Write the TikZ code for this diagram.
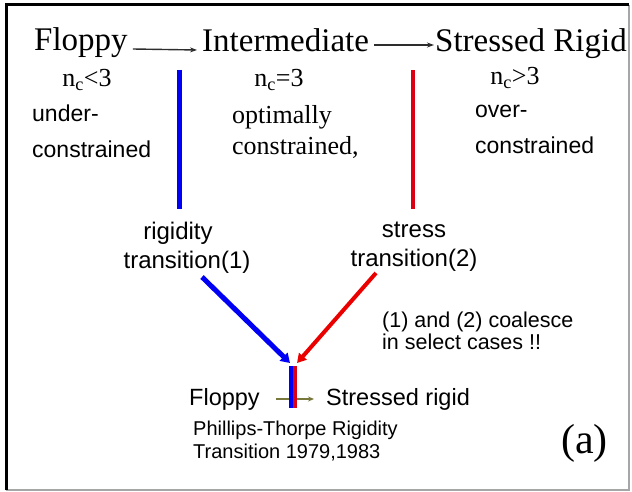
\documentclass[tikz,border=0pt]{standalone}
\usepackage{fontspec}
\setmainfont{Liberation Serif}
\newfontfamily\arialf{Liberation Sans}
\usetikzlibrary{arrows.meta}
\definecolor{myblue}{RGB}{0,0,245}
\definecolor{myred}{RGB}{220,0,20}
\definecolor{myred2}{RGB}{235,0,0}
\definecolor{olive2}{RGB}{120,120,60}
\definecolor{darkline}{RGB}{45,45,45}
\tikzset{
  head/.style={font=\fontsize{33}{36}\selectfont, inner sep=0pt, anchor=base west},
  ncs/.style={font=\fontsize{26}{28}\selectfont, inner sep=0pt, anchor=base},
  sans/.style={font=\arialf\fontsize{23}{36}\selectfont, inner sep=0pt, align=left},
  topar/.style={darkline, line width=1.4pt, -{Stealth[length=7pt,width=5pt]}},
}
\begin{document}
\begin{tikzpicture}[x=1pt,y=-1pt]
\useasboundingbox (0,0) rectangle (632,492);
% frame
\draw[line width=1.5pt, gray!70] (629,5) -- (629,490) -- (6,490);
\draw[line width=3pt, black] (6,490) -- (6,5) -- (629,5);
% headings
\node[head] (floppy) at (34,51) {Floppy};
\node[head] (inter) at (202,52) {Intermediate};
\node[head] (stressed) at (435,52) {Stressed Rigid};
\draw[topar] ([shift={(5pt,2pt)}]floppy.base east) -- ([shift={(-5pt,2pt)}]inter.base west);
\draw[topar] ([shift={(5pt,7pt)}]inter.base east) -- ([shift={(-1pt,7pt)}]stressed.base west);
% n_c
\node[ncs] (nc1) at (87,87) {n\textsubscript{c}<3};
\node[ncs] (nc2) at (279,87) {n\textsubscript{c}=3};
\node[ncs] (nc3) at (515,85) {n\textsubscript{c}>3};
% descriptions
\node[sans, anchor=north west] (under) at (32,105) {under-\\constrained};
\node[font=\fontsize{26}{31}\selectfont, inner sep=0pt, align=left, anchor=north west] (optim) at (232,105) {optimally\\constrained,};
\node[sans, anchor=north west] (over) at (475,105) {over-\\constrained};
% vertical lines
\coordinate (bt) at (179,70);
\coordinate (bb) at (179,209);
\coordinate (rt) at (413,70);
\coordinate (rb) at (413,209);
\draw[myblue, line width=5pt] (bt) -- (bb);
\draw[myred, line width=4.5pt] (rt) -- (rb);
% transitions
\node[font=\arialf\fontsize{24}{29}\selectfont, inner sep=0pt, align=center, anchor=north] (rig) at (187,222) {\hspace*{-18pt}rigidity\\transition(1)};
\node[font=\arialf\fontsize{24}{29}\selectfont, inner sep=0pt, align=center, anchor=north] (str) at (414,222) {stress\\transition(2)};
\node[font=\arialf\fontsize{21.5}{22}\selectfont, inner sep=0pt, align=left, anchor=north west] (coal) at (382,312) {(1) and (2) coalesce\\in select cases !!};
% diagonals
\coordinate (bd) at (202,277);
\coordinate (be) at (290,363);
\coordinate (rd) at (376,273);
\coordinate (re) at (297,363);
\draw[myblue, line width=5pt, -{Triangle[length=9pt,width=11pt]}] (bd) -- (be);
\draw[myred2, line width=4pt, -{Triangle[length=9pt,width=10pt]}] (rd) -- (re);
% bottom
\node[font=\arialf\fontsize{23.5}{28}\selectfont, inner sep=0pt, anchor=base west] (fl2) at (189,405) {Floppy};
\node[font=\arialf\fontsize{23.5}{28}\selectfont, inner sep=0pt, anchor=base west] (sr2) at (326,405) {Stressed rigid};
\draw[olive2, line width=1.6pt, -{Stealth[length=6pt,width=5pt]}] ([shift={(16pt,6pt)}]fl2.base east) -- ([shift={(-12pt,6pt)}]sr2.base west);
\coordinate (vb1) at (291,366);
\coordinate (vb2) at (291,408);
\coordinate (vr1) at (295,366);
\coordinate (vr2) at (295,408);
\draw[myblue, line width=4pt] (vb1) -- (vb2);
\draw[myred, line width=4pt] (vr1) -- (vr2);
\node[font=\arialf\fontsize{20}{23}\selectfont, inner sep=0pt, align=left, anchor=north west] (pt) at (193,421) {Phillips-Thorpe Rigidity\\Transition 1979,1983};
\node[font=\fontsize{42}{44}\selectfont, inner sep=0pt, anchor=base west] (a) at (561,453) {(a)};
\end{tikzpicture}
\end{document}
